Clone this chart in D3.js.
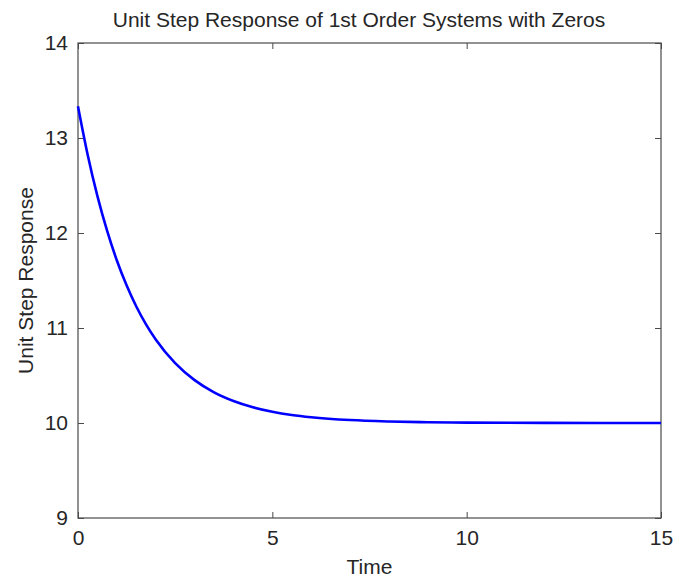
<!DOCTYPE html>
<html>
<head>
<meta charset="utf-8">
<script src="https://cdn.jsdelivr.net/npm/d3@7"></script>
<style>
  html, body { margin: 0; padding: 0; background: #fff; }
  svg text { font-family: "Liberation Sans", Arial, Helvetica, sans-serif; fill: #262626; }
</style>
</head>
<body>
<div id="chart"></div>
<script>
// values (time, response)
const times = [0, 0.25, 0.5, 0.75, 1, 1.25, 1.5, 1.75, 2, 2.5, 3, 3.5, 4, 4.5, 5, 5.5, 6, 7, 8, 9, 10, 12, 15];
const response = [13.333, 12.822, 12.388, 12.022, 11.711, 11.449, 11.226, 11.038, 10.879, 10.630, 10.451, 10.323, 10.232, 10.166, 10.119, 10.085, 10.061, 10.031, 10.016, 10.008, 10.004, 10.001, 10.000];
const xTicks = [0, 5, 10, 15];
const yTicks = [9, 10, 11, 12, 13, 14];

const width = 675, height = 579;
const margin = {top: 43, right: 14, bottom: 61, left: 78};

const svg = d3.select('#chart').append('svg').attr('width', width).attr('height', height);

const x = d3.scaleLinear().domain([0, 15]).range([margin.left, width - margin.right]);
const y = d3.scaleLinear().domain([9, 14]).range([height - margin.bottom, margin.top]);

const axisColor = '#4a4a4a';
const tickLen = 6;
const fontSize = '21px';

// frame
svg.append('rect')
    .attr('x', x(0)).attr('y', y(14))
    .attr('width', x(15) - x(0)).attr('height', y(9) - y(14))
    .attr('fill', '#fff').attr('stroke', axisColor).attr('stroke-width', 1.2);

// inward ticks on all four sides
function styleAxis(g) {
    g.select('.domain').remove();
    g.selectAll('.tick line').attr('stroke', axisColor).attr('stroke-width', 1);
    g.selectAll('.tick text').attr('font-size', fontSize).attr('fill', '#262626');
}
svg.append('g').attr('transform', `translate(0,${y(9)})`)
    .call(d3.axisBottom(x).tickValues(xTicks).tickFormat(d3.format('d')).tickSizeInner(-tickLen).tickSizeOuter(0).tickPadding(12))
    .call(styleAxis);
svg.append('g').attr('transform', `translate(0,${y(14)})`)
    .call(d3.axisTop(x).tickValues(xTicks).tickSizeInner(-tickLen).tickSizeOuter(0).tickFormat(''))
    .call(styleAxis);
svg.append('g').attr('transform', `translate(${x(0)},0)`)
    .call(d3.axisLeft(y).tickValues(yTicks).tickFormat(d3.format('d')).tickSizeInner(-tickLen).tickSizeOuter(0).tickPadding(10))
    .call(styleAxis);
svg.append('g').attr('transform', `translate(${x(15)},0)`)
    .call(d3.axisRight(y).tickValues(yTicks).tickSizeInner(-tickLen).tickSizeOuter(0).tickFormat(''))
    .call(styleAxis);

// curve
const pts = times.map((t, i) => [t, response[i]]);
svg.append('path').datum(pts)
    .attr('fill', 'none').attr('stroke', '#0000ff').attr('stroke-width', 2.6)
    .attr('d', d3.line().x(d => x(d[0])).y(d => y(d[1])).curve(d3.curveMonotoneX));

// labels
svg.append('text').attr('x', 359).attr('y', 27)
    .attr('text-anchor', 'middle').attr('font-size', fontSize)
    .text('Unit Step Response of 1st Order Systems with Zeros');
svg.append('text').attr('x', (x(0) + x(15)) / 2).attr('y', 574)
    .attr('text-anchor', 'middle').attr('font-size', fontSize).text('Time');
svg.append('text')
    .attr('transform', `translate(33,${(y(9) + y(14)) / 2}) rotate(-90)`)
    .attr('text-anchor', 'middle').attr('font-size', fontSize).text('Unit Step Response');
</script>
</body>
</html>
